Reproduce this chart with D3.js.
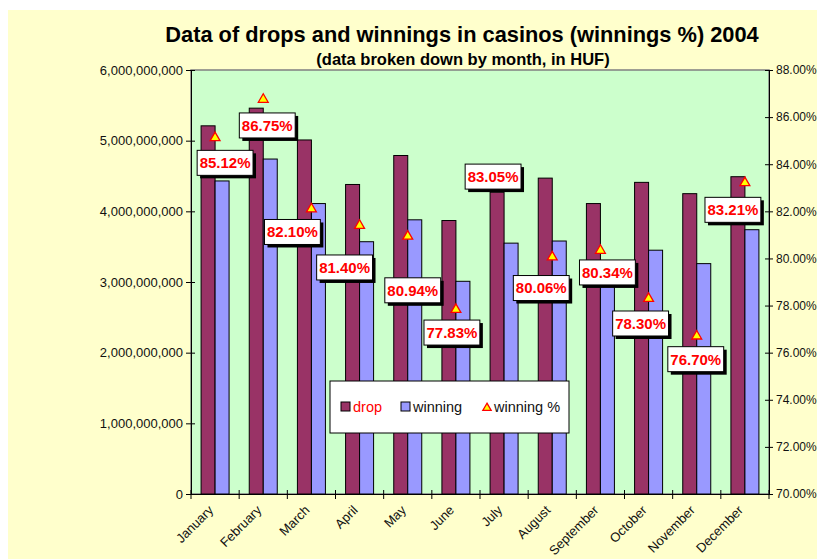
<!DOCTYPE html>
<html>
<head>
<meta charset="utf-8">
<script src="https://cdn.jsdelivr.net/npm/d3@7"></script>
<style>
  body { margin: 0; background: #fff; }
  svg { display: block; font-family: "Liberation Sans", Arial, sans-serif; }
</style>
</head>
<body>
<svg id="chart" width="817" height="559"></svg>
<script>
// data
const months = ['January', 'February', 'March', 'April', 'May', 'June',
  'July', 'August', 'September', 'October', 'November', 'December'];
const drop = [5.21e9, 5.46e9, 5.01e9, 4.38e9, 4.79e9, 3.87e9, 4.27e9, 4.47e9, 4.11e9, 4.41e9, 4.25e9, 4.49e9];
const winning = [4.43e9, 4.74e9, 4.11e9, 3.57e9, 3.88e9, 3.01e9, 3.55e9, 3.58e9, 3.30e9, 3.45e9, 3.26e9, 3.74e9];
const winPct = [0.8512, 0.8675, 0.8210, 0.8140, 0.8094, 0.7783, 0.8305, 0.8006, 0.8034, 0.7830, 0.7670, 0.8321];
const leftTicks = [0, 1e9, 2e9, 3e9, 4e9, 5e9, 6e9];
const rightTicks = [0.70, 0.72, 0.74, 0.76, 0.78, 0.80, 0.82, 0.84, 0.86, 0.88];

// where excel had each % label dragged to, relative to its marker
const labelNudge = [[10, 25], [4, 26], [-19, 23], [-15, 42], [5, 54], [-4, 23],
  [-11, -10], [-11, 31], [7, 22], [-8, 25], [-1, 23], [-12, 27]];

const svg = d3.select('#chart');
const plot = { left: 191, right: 769, top: 70, bottom: 494 };

// chart area background
svg.append('rect').attr('x', 8).attr('y', 10).attr('width', 809).attr('height', 549)
  .attr('fill', '#FFFFCC');
svg.append('rect')
  .attr('x', plot.left).attr('y', plot.top)
  .attr('width', plot.right - plot.left).attr('height', plot.bottom - plot.top)
  .attr('fill', '#CCFFCC').attr('stroke', '#808080').attr('stroke-width', 1.5);

// titles
svg.append('text').attr('x', 462).attr('y', 42).attr('text-anchor', 'middle')
  .attr('font-size', 21.8).attr('font-weight', 'bold')
  .text('Data of drops and winnings in casinos (winnings %) 2004');
svg.append('text').attr('x', 463).attr('y', 65).attr('text-anchor', 'middle')
  .attr('font-size', 16.5).attr('font-weight', 'bold')
  .text('(data broken down by month, in HUF)');

const x0 = d3.scaleBand().domain(months).range([plot.left, plot.right]);
const x1 = d3.scaleBand().domain(['drop', 'winning']).range([0, x0.bandwidth()])
  .paddingInner(0).paddingOuter(0.72);
const y = d3.scaleLinear().domain([0, 6e9]).range([plot.bottom, plot.top]);
const yr = d3.scaleLinear().domain([0.70, 0.88]).range([plot.bottom, plot.top]);

const colors = { drop: '#993366', winning: '#9999FF' };

// bars
const g = svg.append('g');
months.forEach(function (m, i) {
  [['drop', drop[i]], ['winning', winning[i]]].forEach(function (d) {
    g.append('rect')
      .attr('x', x0(m) + x1(d[0]))
      .attr('y', y(d[1]))
      .attr('width', x1.bandwidth())
      .attr('height', plot.bottom - y(d[1]))
      .attr('fill', colors[d[0]])
      .attr('stroke', '#000').attr('stroke-width', 1);
  });
});

// axes
const leftAxis = svg.append('g')
  .attr('transform', 'translate(' + plot.left + ',0)')
  .call(d3.axisLeft(y).tickValues(leftTicks).tickFormat(d3.format(',')).tickSizeInner(5).tickSizeOuter(0));
leftAxis.selectAll('.tick line').attr('x1', 4);
leftAxis.selectAll('text').attr('x', -8);

const rightAxis = svg.append('g')
  .attr('transform', 'translate(' + plot.right + ',0)')
  .call(d3.axisRight(yr).tickValues(rightTicks).tickFormat(d3.format('.2%')).tickSizeInner(4).tickSizeOuter(0));
rightAxis.selectAll('.tick line').attr('x1', -4);
rightAxis.selectAll('text').attr('x', 7);

const bottomAxis = svg.append('g')
  .attr('transform', 'translate(0,' + plot.bottom + ')')
  .call(d3.axisBottom(x0).tickSize(0).tickSizeOuter(0));
bottomAxis.selectAll('.tick text')
  .attr('text-anchor', 'end')
  .attr('dy', 0).attr('y', 0)
  .attr('transform', 'translate(-1,17) rotate(-45)');
// excel style ticks between the categories
bottomAxis.selectAll('.bound').data(months.concat(['end']))
  .enter().append('line')
  .attr('x1', function (d, i) { return i < months.length ? x0(d) : plot.right; })
  .attr('x2', function (d, i) { return i < months.length ? x0(d) : plot.right; })
  .attr('y1', -4).attr('y2', 5)
  .attr('stroke', '#000');

[leftAxis, rightAxis, bottomAxis].forEach(function (a) {
  a.attr('font-family', null).attr('font-size', 13);
  a.selectAll('text').attr('fill', '#111');
  a.selectAll('path, line').attr('stroke', '#000');
});
rightAxis.selectAll('text').attr('font-size', 12);
bottomAxis.selectAll('text').attr('font-size', 13);

// winning % markers
const tri = d3.symbol().type(d3.symbolTriangle).size(42);
svg.append('g').selectAll('path').data(winPct).enter().append('path')
  .attr('d', tri)
  .attr('transform', function (d, i) {
    return 'translate(' + (x0(months[i]) + x0.bandwidth() / 2) + ',' + yr(d) + ')';
  })
  .attr('fill', '#FFFF00').attr('stroke', '#FF0000').attr('stroke-width', 1.3);

// % labels in boxes with a drop shadow
const labels = svg.append('g');
winPct.forEach(function (d, i) {
  const cx = x0(months[i]) + x0.bandwidth() / 2 + labelNudge[i][0];
  const cy = yr(d) + labelNudge[i][1];
  const lg = labels.append('g').attr('transform', 'translate(' + cx + ',' + cy + ')');
  const shadow = lg.append('rect');
  const box = lg.append('rect');
  const t = lg.append('text').attr('text-anchor', 'middle').attr('dy', '0.36em')
    .attr('font-size', 15).attr('font-weight', 'bold').attr('fill', '#FF0000')
    .text(d3.format('.2%')(d));
  const w = t.node().getComputedTextLength() + 5, h = 25;
  shadow.attr('x', -w / 2 + 3).attr('y', -h / 2 + 3).attr('width', w).attr('height', h).attr('fill', '#000');
  box.attr('x', -w / 2).attr('y', -h / 2).attr('width', w).attr('height', h)
    .attr('fill', '#fff').attr('stroke', '#000').attr('stroke-width', 1);
});

// legend
const leg = svg.append('g').attr('transform', 'translate(330,381)');
leg.append('rect').attr('width', 239).attr('height', 52)
  .attr('fill', '#fff').attr('stroke', '#000').attr('stroke-width', 1);
const legItems = [
  { key: 'drop', label: 'drop', x: 11, color: '#FF0000' },
  { key: 'winning', label: 'winning', x: 71, color: '#111' },
  { key: 'pct', label: 'winning %', x: 154, color: '#111' }
];
legItems.forEach(function (it) {
  if (it.key === 'pct') {
    leg.append('path').attr('d', d3.symbol().type(d3.symbolTriangle).size(30))
      .attr('transform', 'translate(' + (it.x + 3) + ',27)')
      .attr('fill', '#FFFF00').attr('stroke', '#FF0000').attr('stroke-width', 1.3);
  } else {
    leg.append('rect').attr('x', it.x).attr('y', 21).attr('width', 9).attr('height', 9)
      .attr('fill', colors[it.key]).attr('stroke', '#000');
  }
  leg.append('text').attr('x', it.x + (it.key === 'pct' ? 10 : 12)).attr('y', 31)
    .attr('font-size', 14.5).attr('fill', it.color).text(it.label);
});
</script>
</body>
</html>
